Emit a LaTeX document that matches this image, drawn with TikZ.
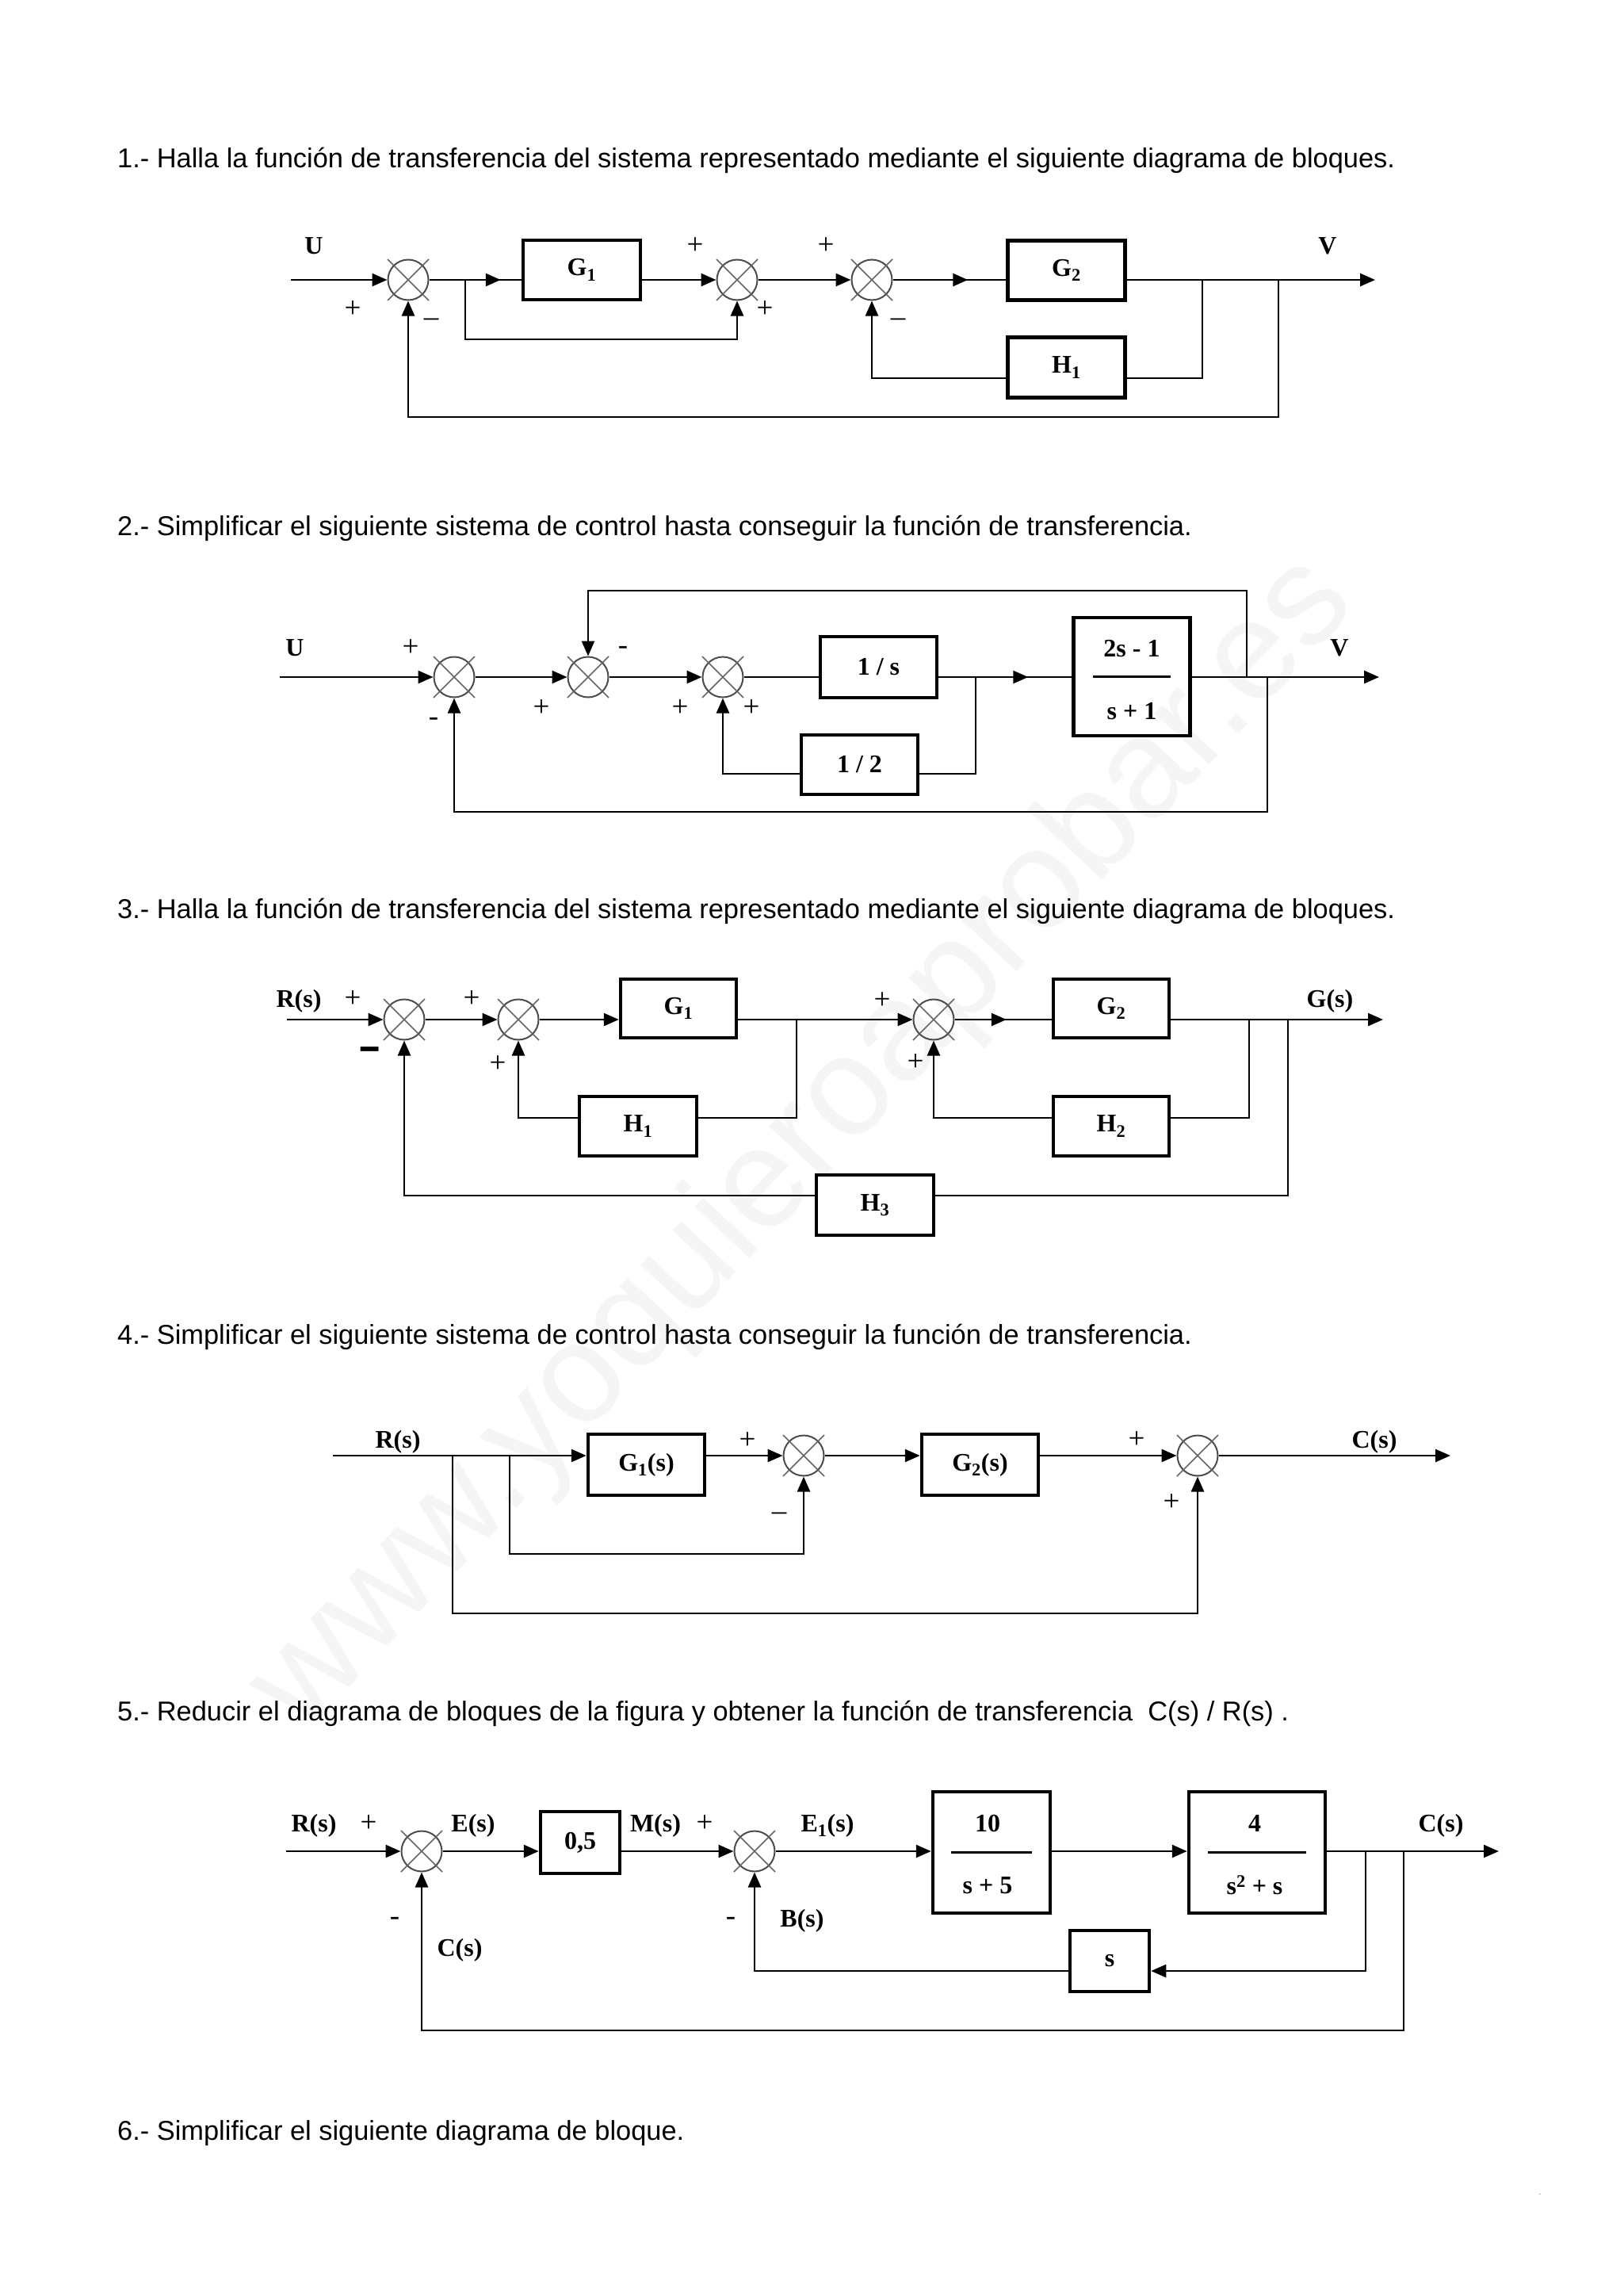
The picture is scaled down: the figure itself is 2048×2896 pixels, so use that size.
\documentclass[tikz,border=0pt]{standalone}
\usepackage{fontspec}
\setmainfont{Liberation Sans}
\newfontfamily\tnr{Liberation Serif}
\usetikzlibrary{arrows.meta,decorations.markings}
\newcommand\headfont{\fontsize{34.4}{40}\selectfont}
\newcommand\lblfont{\tnr\bfseries\fontsize{32}{36}\selectfont}
\newcommand\pmfont{\tnr\fontsize{37}{40}\selectfont}
\newcommand\wmfont{\fontsize{178}{200}\selectfont}
\tikzset{
  Tri/.tip={Triangle[length=19pt,width=16pt]},
  sig/.style={line width=2.6pt, line join=miter},
  arr/.style={sig,-Tri},
  midtip/.style={postaction={decorate}, decoration={markings, mark=at position #1 with {\arrow{Tri}}}},
  blk/.style={draw, line width=4.5pt, rectangle, inner sep=0pt, font=\lblfont},
  sumj/.style={circle, draw=black!70, line width=2pt, minimum size=51pt, inner sep=0pt},
  xl/.style={draw=black!60, line width=1.6pt},
  lbl/.style={font=\lblfont, inner sep=0pt},
  pm/.style={font=\pmfont, inner sep=0pt},
  head/.style={font=\headfont, inner sep=0pt, anchor=base west},
  frac/.style={line width=2.4pt},
}
\newcommand\sumX[3]{\node[sumj] (#1) at (#2,#3) {};
  \draw[xl] (#1.center) +(-26,-26) -- +(26,26) +(-26,26) -- +(26,-26);}
\begin{document}
\begin{tikzpicture}[x=1pt,y=-1pt]
\useasboundingbox (0,0) rectangle (2048,2896);
\fill[white] (0,0) rectangle (2048,2896);
% watermark
\node[rotate=47, text=black!4, font=\wmfont, inner sep=0pt] (wm) at (1015,1445) {www.yoquieroaprobar.es};

% headings
\node[head] (t1) at (148,211) {1.- Halla la función de transferencia del sistema representado mediante el siguiente diagrama de bloques.};
\node[head] (t2) at (148,675.5) {2.- Simplificar el siguiente sistema de control hasta conseguir la función de transferencia.};
\node[head] (t3) at (148,1158) {3.- Halla la función de transferencia del sistema representado mediante el siguiente diagrama de bloques.};
\node[head] (t4) at (148,1695.5) {4.- Simplificar el siguiente sistema de control hasta conseguir la función de transferencia.};
\node[head] (t5) at (148,2170.5) {5.- Reducir el diagrama de bloques de la figura y obtener la función de transferencia\ \ C(s) / R(s) .};
\node[head] (t6) at (148,2699) {6.- Simplificar el siguiente diagrama de bloque.};
\node[font=\fontsize{10}{12}\selectfont, text=black!60, inner sep=0pt] (dot) at (1943,2768) {.};

% ---------------- Diagram 1 ----------------
\sumX{a1}{515}{353}
\sumX{a2}{930}{353}
\sumX{a3}{1100}{353}
\node[blk, minimum width=148pt, minimum height=75pt] (aG1) at (734,340.5) {G\textsubscript{1}};
\node[blk, minimum width=148pt, minimum height=75pt] (aG2) at (1345.5,341) {G\textsubscript{2}};
\node[blk, minimum width=148pt, minimum height=76pt] (aH1) at (1345.5,463.5) {H\textsubscript{1}};
\coordinate (aIn) at (367,353);
\coordinate (aOut) at (1735,353);
\coordinate (ab1) at (587,353);
\coordinate (ac1) at (587,428);
\coordinate (ab2) at (1517,353);
\coordinate (ac2) at (1517,477);
\coordinate (ab3) at (1613,353);
\coordinate (ac3) at (1613,526);
\draw[arr] (aIn) -- (a1);
\draw[sig, midtip=-26pt] (a1) -- (a1 -| aG1.west);
\draw[arr] (a1 -| aG1.east) -- (a2);
\draw[arr] (a2) -- (a3);
\draw[sig, midtip=-48pt] (a3) -- (a3 -| aG2.west);
\draw[arr] (a3 -| aG2.east) -- (aOut);
\draw[arr] (ab1) -- (ac1) -| (a2);
\draw[sig] (ab2) -- (ac2) -- (ac2 -| aH1.east);
\draw[arr] (ac2 -| aH1.west) -| (a3);
\draw[arr] (ab3) -- (ac3) -| (a1);
\node[lbl] (aU) at (396,310) {U};
\node[lbl] (aV) at (1675,310) {V};
\node[pm] at (445,390) {+};
\node[pm] at (544,407) {–};
\node[pm] at (877,310) {+};
\node[pm] at (965,390) {+};
\node[pm] at (1042,310) {+};
\node[pm] at (1133,407) {–};

% ---------------- Diagram 2 ----------------
\sumX{b1}{573}{854}
\sumX{b2}{742}{854}
\sumX{b3}{912}{854}
\node[blk, minimum width=147pt, minimum height=77pt] (bS) at (1108.5,841.5) {1 / s};
\node[blk, minimum width=147pt, minimum height=75pt] (bH) at (1084.5,964.5) {1 / 2};
\node[blk, minimum width=147pt, minimum height=149pt] (bF) at (1428,853.5) {};
\draw[frac] (bF.center) +(-49,0) -- +(49,0);
\node[lbl] (bFn) at (1428,818) {2s - 1};
\node[lbl] (bFd) at (1428,897) {s + 1};
\coordinate (bIn) at (353,854);
\coordinate (bOut) at (1740,854);
\coordinate (bb1) at (1231,854);
\coordinate (bc1) at (1231,976);
\coordinate (bb2) at (1573,854);
\coordinate (bc2) at (1573,745);
\coordinate (bb3) at (1599,854);
\coordinate (bc3) at (1599,1024);
\draw[arr] (bIn) -- (b1);
\draw[arr] (b1) -- (b2);
\draw[arr] (b2) -- (b3);
\draw[sig] (b3) -- (b3 -| bS.west);
\draw[sig, midtip=-55pt] (b3 -| bS.east) -- (b3 -| bF.west);
\draw[arr] (b3 -| bF.east) -- (bOut);
\draw[sig] (bb1) -- (bc1) -- (bc1 -| bH.east);
\draw[arr] (bc1 -| bH.west) -| (b3);
\draw[arr] (bb2) -- (bc2) -| (b2);
\draw[arr] (bb3) -- (bc3) -| (b1);
\node[lbl] (bU) at (372,817) {U};
\node[lbl] (bV) at (1690,817) {V};
\node[pm] at (518,817) {+};
\node[pm] at (547,910) {-};
\node[pm] at (683,893) {+};
\node[pm] at (786,820) {-};
\node[pm] at (858,893) {+};
\node[pm] at (948,893) {+};

% ---------------- Diagram 3 ----------------
\sumX{c1}{510}{1286}
\sumX{c2}{654}{1286}
\sumX{c3}{1178}{1286}
\node[blk, minimum width=146pt, minimum height=74pt] (cG1) at (856,1272) {G\textsubscript{1}};
\node[blk, minimum width=148pt, minimum height=75pt] (cH1) at (805,1420.5) {H\textsubscript{1}};
\node[blk, minimum width=146pt, minimum height=74pt] (cG2) at (1402,1272) {G\textsubscript{2}};
\node[blk, minimum width=146pt, minimum height=75pt] (cH2) at (1402,1420.5) {H\textsubscript{2}};
\node[blk, minimum width=148pt, minimum height=76pt] (cH3) at (1104,1520) {H\textsubscript{3}};
\coordinate (cIn) at (362,1286);
\coordinate (cOut) at (1745,1286);
\coordinate (cb1) at (1005,1286);
\coordinate (cc1) at (1005,1410);
\coordinate (cb2) at (1576,1286);
\coordinate (cc2) at (1576,1410);
\coordinate (cb3) at (1625,1286);
\coordinate (cc3) at (1625,1508);
\draw[arr] (cIn) -- (c1);
\draw[arr] (c1) -- (c2);
\draw[arr] (c2) -- (c2 -| cG1.west);
\draw[arr] (c2 -| cG1.east) -- (c3);
\draw[sig, midtip=-57pt] (c3) -- (c3 -| cG2.west);
\draw[arr] (c3 -| cG2.east) -- (cOut);
\draw[sig] (cb1) -- (cc1) -- (cc1 -| cH1.east);
\draw[arr] (cc1 -| cH1.west) -| (c2);
\draw[sig] (cb2) -- (cc2) -- (cc2 -| cH2.east);
\draw[arr] (cc2 -| cH2.west) -| (c3);
\draw[sig] (cb3) -- (cc3) -- (cc3 -| cH3.east);
\draw[arr] (cc3 -| cH3.west) -| (c1);
\node[lbl] (cR) at (377,1263) {R(s)};
\node[lbl] (cGs) at (1678,1263) {G(s)};
\node[pm] at (445,1260) {+};
\node[pm] at (467,1332) {\bfseries\scalebox{1.2}[2.2]{–}};
\node[pm] at (595,1260) {+};
\node[pm] at (628,1342) {+};
\node[pm] at (1113,1262) {+};
\node[pm] at (1155,1340) {+};

% ---------------- Diagram 4 ----------------
\sumX{d1}{1014}{1836}
\sumX{d2}{1511}{1836}
\node[blk, minimum width=147pt, minimum height=77pt] (dG1) at (815.5,1847.5) {G\textsubscript{1}(s)};
\node[blk, minimum width=147pt, minimum height=77pt] (dG2) at (1236.5,1847.5) {G\textsubscript{2}(s)};
\coordinate (dIn) at (420,1836);
\coordinate (dOut) at (1830,1836);
\coordinate (db1) at (571,1836);
\coordinate (dc1) at (571,2035);
\coordinate (db2) at (643,1836);
\coordinate (dc2) at (643,1960);
\draw[arr] (dIn) -- (dIn -| dG1.west);
\draw[arr] (d1 -| dG1.east) -- (d1);
\draw[arr] (d1) -- (d1 -| dG2.west);
\draw[arr] (d1 -| dG2.east) -- (d2);
\draw[arr] (d2) -- (dOut);
\draw[arr] (db1) -- (dc1) -| (d2);
\draw[arr] (db2) -- (dc2) -| (d1);
\node[lbl] (dR) at (502,1819) {R(s)};
\node[lbl] (dC) at (1734,1819) {C(s)};
\node[pm] at (943,1817) {+};
\node[pm] at (983,1913) {–};
\node[pm] at (1434,1816) {+};
\node[pm] at (1478,1895) {+};

% ---------------- Diagram 5 ----------------
\sumX{e1}{532}{2335}
\sumX{e2}{952}{2335}
\node[blk, minimum width=100pt, minimum height=78pt] (eK) at (732,2324) {0,5};
\node[blk, minimum width=148pt, minimum height=153pt] (eA) at (1251,2336.5) {};
\node[blk, minimum width=172pt, minimum height=153pt] (eB) at (1586,2336.5) {};
\node[blk, minimum width=100pt, minimum height=77pt] (eS) at (1400,2473.5) {s};
\draw[frac] (eA.center) +(-51,0) -- +(51,0);
\draw[frac] (eB.center) +(-62,0) -- +(62,0);
\node[lbl] (eAn) at (1246,2300) {10};
\node[lbl] (eAd) at (1246,2378) {s + 5};
\node[lbl] (eBn) at (1583,2300) {4};
\node[lbl] (eBd) at (1583,2378) {s\textsuperscript{2} + s};
\coordinate (eIn) at (361,2335);
\coordinate (eOut) at (1891,2335);
\coordinate (eb1) at (1723,2335);
\coordinate (ec1) at (1723,2486);
\coordinate (eb2) at (1771,2335);
\coordinate (ec2) at (1771,2561);
\draw[arr] (eIn) -- (e1);
\draw[arr] (e1) -- (e1 -| eK.west);
\draw[arr] (e1 -| eK.east) -- (e2);
\draw[arr] (e2) -- (e2 -| eA.west);
\draw[arr] (e2 -| eA.east) -- (e2 -| eB.west);
\draw[arr] (e2 -| eB.east) -- (eOut);
\draw[arr] (eb1) -- (ec1) -- (ec1 -| eS.east);
\draw[arr] (ec1 -| eS.west) -| (e2);
\draw[arr] (eb2) -- (ec2) -| (e1);
\node[lbl] (eR) at (396,2303) {R(s)};
\node[lbl] (eE) at (597,2303) {E(s)};
\node[lbl] (eM) at (827,2303) {M(s)};
\node[lbl] (eE1) at (1044,2303) {E\textsubscript{1}(s)};
\node[lbl] (eC) at (1818,2303) {C(s)};
\node[lbl] (eC2) at (580,2460) {C(s)};
\node[lbl] (eBs) at (1012,2423) {B(s)};
\node[pm] at (465,2300) {+};
\node[pm] at (498,2423) {-};
\node[pm] at (889,2300) {+};
\node[pm] at (922,2423) {-};
\end{tikzpicture}
\end{document}
